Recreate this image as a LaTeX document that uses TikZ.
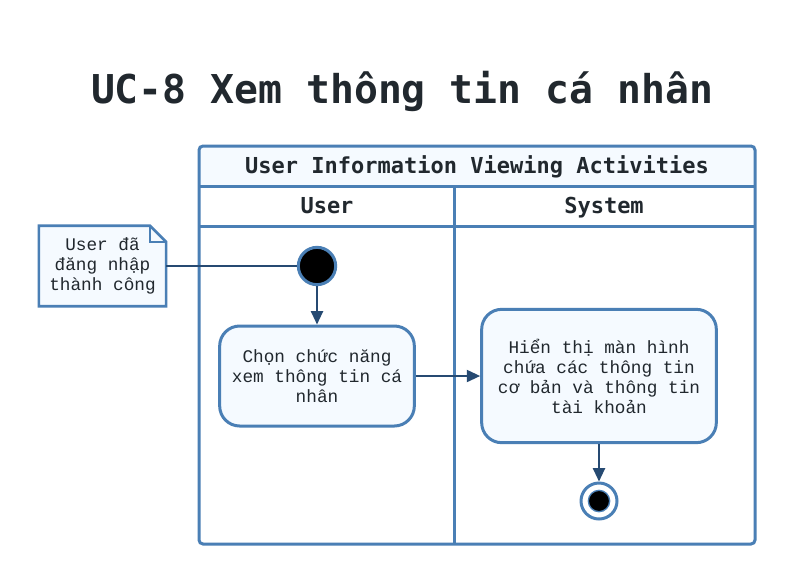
\documentclass[tikz,border=0pt]{standalone}
\usepackage{fontspec}
\setmainfont{Liberation Mono}
\newfontfamily\headfont{DejaVu Sans Mono}
\usetikzlibrary{arrows.meta}

\definecolor{laneblue}{RGB}{74,127,181}
\definecolor{flowblue}{RGB}{38,74,114}
\definecolor{palefill}{RGB}{245,250,255}
\definecolor{inktext}{RGB}{33,40,46}

\tikzset{
  lane/.style={draw=laneblue, line width=2.25pt},
  headtext/.style={font=\headfont\bfseries\fontsize{16.5}{18}\selectfont, text=inktext,
    text height=0.75em, text depth=0.2em},
  actbox/.style={draw=laneblue, line width=2.25pt, fill=palefill, rounded corners=15pt,
    align=center, font=\fontsize{13.3}{15}\selectfont, text=inktext},
  flow/.style={draw=flowblue, line width=1.5pt, -{Triangle[length=10pt,width=9pt]}},
}

\begin{document}
\begin{tikzpicture}[x=0.75pt,y=-0.75pt]
\useasboundingbox[fill=white] (0,0) rectangle (795,583);

% Title
\node[font=\headfont\bfseries\fontsize{29.8}{32}\selectfont, text=inktext] (title) at (402,91) {UC-8 Xem thông tin cá nhân};

% Pool and lanes
\fill[white, rounded corners=3pt] (199,146) rectangle (755,544);
\fill[palefill, rounded corners=3pt] (199,146) rectangle (755,186);
\draw[lane] (199,186) -- (755,186);
\draw[lane] (199,226) -- (755,226);
\draw[lane] (454,186) -- (454,544);
\draw[lane, rounded corners=3pt] (199,146) rectangle (755,544);

\node[headtext] (pooltitle) at (477,170) {User Information Viewing Activities};
\node[headtext] (laneuser) at (327,210) {User};
\node[headtext] (lanesys) at (604,210) {System};

% Start / end
\node[circle, draw=laneblue, line width=2.25pt, fill=black, minimum size=28pt, inner sep=0pt] (start) at (317,266) {};
\node[circle, draw=laneblue, line width=2.25pt, fill=white, minimum size=27pt, inner sep=0pt,
  path picture={\draw[laneblue, fill=black, line width=1pt] (path picture bounding box.center) circle (8pt);}] (end) at (599,501) {};

% Actions
\node[actbox, minimum width=146pt, minimum height=75pt] (choose) at (317,376) {Chọn chức năng\\xem thông tin cá\\nhân};
\node[actbox, minimum width=176pt, minimum height=100pt] (show) at (599,376) {Hiển thị màn hình\\chứa các thông tin\\cơ bản và thông tin\\tài khoản};

% Note
\node[minimum width=95pt, minimum height=60pt, inner sep=0pt] (note) at (102.5,266) {};
\draw[lane, fill=palefill, line width=2pt] (note.north west) -- ([xshift=-12pt]note.north east) -- ([yshift=-12pt]note.north east)
  -- (note.south east) -- (note.south west) -- cycle;
\draw[lane, line width=1.5pt] ([xshift=-12pt]note.north east) |- ([yshift=-12pt]note.north east);
\node[align=center, font=\fontsize{13.3}{15}\selectfont, text=inktext] (notetext) at (note.center) {User đã\\đăng nhập\\thành công};

% Flows
\draw[flowblue, line width=1.5pt] (note) -- (start);
\draw[flow] (start) -- (choose);
\draw[flow] (choose) -- (show);
\draw[flow] (show) -- (end);

\end{tikzpicture}
\end{document}
